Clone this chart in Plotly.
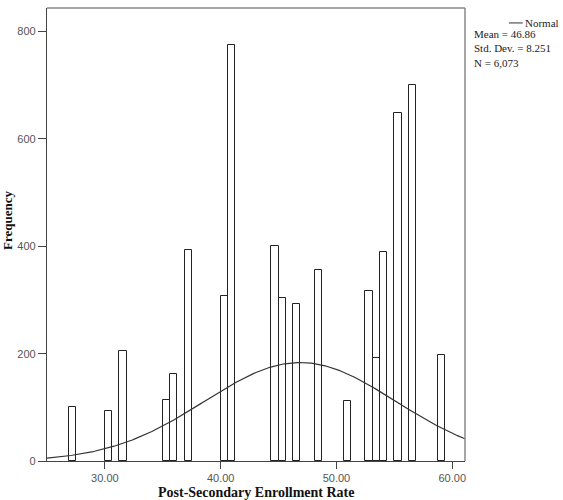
import numpy as np
import plotly.graph_objects as go

# Histogram data (bin start values, bin width 0.625)
bin_starts = [26.875, 30.0, 31.25, 35.0, 35.625, 36.875, 40.0, 40.625, 44.375, 45.0,
              46.25, 48.125, 50.625, 52.5, 53.125, 53.75, 55.0, 56.25, 58.75]
counts = [100, 93, 205, 114, 163, 394, 307, 775, 400, 304,
          293, 356, 111, 317, 191, 390, 649, 700, 198]
bin_width = 0.625

mean_val = 46.86
sd_val = 8.251
n_val = 6073

x_ticks = [30, 40, 50, 60]
x_tick_labels = ["30.00", "40.00", "50.00", "60.00"]
y_ticks = [0, 200, 400, 600, 800]
y_tick_labels = ["0", "200", "400", "600", "800"]

centers = [s + bin_width / 2 for s in bin_starts]

fig = go.Figure()
fig.add_trace(go.Bar(
    x=centers, y=counts, width=bin_width,
    marker=dict(color="white", line=dict(color="#222222", width=1)),
    showlegend=False, hoverinfo="skip",
))

xs = np.linspace(25, 61.1, 300)
ys = n_val * bin_width / (sd_val * np.sqrt(2 * np.pi)) * np.exp(-0.5 * ((xs - mean_val) / sd_val) ** 2)
fig.add_trace(go.Scatter(x=xs, y=ys, mode="lines", line=dict(color="#333333", width=1.2),
                         showlegend=False, hoverinfo="skip"))

fig.update_layout(
    width=563, height=500,
    margin=dict(l=47, r=98, t=8, b=39),
    plot_bgcolor="white", paper_bgcolor="white",
    bargap=0,
    xaxis=dict(range=[25, 61.1], tickvals=x_ticks, ticktext=x_tick_labels,
               showgrid=False, zeroline=False, showline=True, linecolor="#444444", linewidth=1.2,
               mirror=False, ticks="outside", ticklen=7, tickcolor="#444444",
               tickfont=dict(family="Liberation Sans", size=11, color="#555555")),
    yaxis=dict(range=[0, 844], tickvals=y_ticks, ticktext=y_tick_labels,
               showgrid=False, zeroline=False, showline=True, linecolor="#444444", linewidth=1.2,
               ticks="outside", ticklen=8, tickcolor="#444444",
               tickfont=dict(family="Liberation Sans", size=11, color="#555555")),
    shapes=[
        dict(type="line", xref="paper", yref="paper", x0=0, x1=1, y0=1, y1=1,
             line=dict(color="#888888", width=1.5)),
        dict(type="line", xref="paper", yref="paper", x0=1, x1=1, y0=0, y1=1,
             line=dict(color="#888888", width=1.5)),
        dict(type="line", xref="paper", yref="paper", x0=1.105, x1=1.138, y0=0.967, y1=0.967,
             line=dict(color="#333333", width=1)),
    ],
    annotations=[
        dict(text="Normal", xref="paper", yref="paper", x=1.139, y=0.967, xanchor="left",
             yanchor="middle", showarrow=False,
             font=dict(family="Liberation Serif", size=11, color="#222222")),
        dict(text="Mean = 46.86<br>Std. Dev. = 8.251<br>N = 6,073", xref="paper", yref="paper",
             x=1.016, y=0.96, xanchor="left", yanchor="top", align="left", showarrow=False,
             font=dict(family="Liberation Serif", size=11, color="#222222")),
        dict(text="<b>Frequency</b>", xref="paper", yref="paper", x=-0.093, y=0.53,
             xanchor="center", yanchor="middle", textangle=-90, showarrow=False,
             font=dict(family="Liberation Serif", size=13, color="#111111")),
        dict(text="<b>Post-Secondary Enrollment Rate</b>", xref="paper", yref="paper",
             x=0.5, y=-0.049, xanchor="center", yanchor="top", showarrow=False,
             font=dict(family="Liberation Serif", size=14, color="#111111")),
    ],
)

fig.write_html("out.html")
